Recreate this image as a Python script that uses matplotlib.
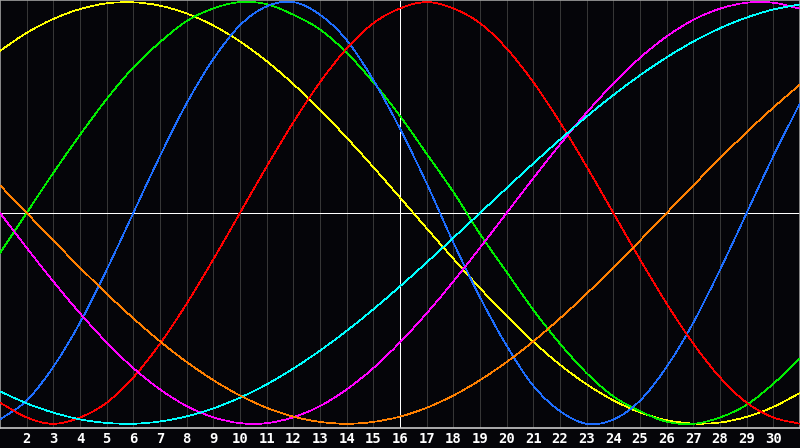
import matplotlib
matplotlib.use("Agg")
import matplotlib.pyplot as plt
from matplotlib.path import Path
from matplotlib.patches import PathPatch

# dias del mes (eje x)
days = list(range(1, 32))
tick_days = list(range(2, 31))
today = 16

# valores de cada ciclo, en % (-100 .. 100), leidos dia a dia
yellow = [76.9, 85.4, 92.0, 96.7, 99.4, 99.9, 98.3, 94.6, 88.9, 81.3, 72.0, 61.1, 48.9, 35.7, 21.7, 7.3,
          -7.3, -21.7, -35.7, -48.9, -61.1, -72.0, -81.3, -88.9, -94.6, -98.3, -99.9, -99.4, -96.7, -92.0, -85.4]
green = [-19, 0, 19, 37, 54, 69, 81, 91, 97, 100, 99, 94, 87, 76, 62, 46,
         28, 10, -10, -28, -46, -62, -76, -87, -94, -99, -100, -97, -91, -81, -69]
blue = [-98, -89, -73, -52, -27, 0, 27, 52, 73, 89, 98, 100, 94, 82, 63, 40,
        14, -14, -40, -63, -82, -94, -100, -98, -89, -73, -52, -27, 0, 27, 52]
red = [-90, -97, -100, -97, -90, -78, -62, -43, -22, 0, 22, 43, 62, 78, 90, 97,
       100, 97, 90, 78, 62, 43, 22, 0, -22, -43, -62, -78, -90, -97, -100]
magenta = [0, -16.5, -32.5, -47.6, -61.4, -73.6, -83.7, -91.6, -96.9, -99.7, -99.7, -96.9, -91.6, -83.7, -73.6, -61.4,
           -47.6, -32.5, -16.5, 0, 16.5, 32.5, 47.6, 61.4, 73.6, 83.7, 91.6, 96.9, 99.7, 99.7, 96.9]
cyan = [-84.6, -90.3, -94.7, -97.9, -99.6, -100.0, -98.9, -96.5, -92.7, -87.6, -81.3, -73.8, -65.3, -55.9, -45.7, -34.8,
        -23.5, -11.8, 0, 11.8, 23.5, 34.8, 45.7, 55.9, 65.3, 73.8, 81.3, 87.6, 92.7, 96.5, 98.9]
orange = [13.1, 0, -13.1, -25.9, -38.3, -50.0, -60.9, -70.7, -79.3, -86.6, -92.4, -96.6, -99.1, -100.0, -99.1, -96.6,
          -92.4, -86.6, -79.3, -70.7, -60.9, -50.0, -38.3, -25.9, -13.1, 0, 13.1, 25.9, 38.3, 50.0, 60.9]

series = [
    (yellow, "#ffff00"),
    (green, "#00ee00"),
    (blue, "#1e6eff"),
    (red, "#ff0000"),
    (magenta, "#ff00ff"),
    (cyan, "#00ffff"),
    (orange, "#ff8000"),
]

PX = 0.72  # un pixel a 100 dpi


# curva suave que pasa por los puntos (catmull-rom -> bezier)
def smooth_path(xs, ys):
    verts = [(xs[0], ys[0])]
    codes = [Path.MOVETO]
    n = len(xs)
    for i in range(n - 1):
        x0, y0 = (xs[i - 1], ys[i - 1]) if i > 0 else (2 * xs[0] - xs[1], 2 * ys[0] - ys[1])
        x1, y1 = xs[i], ys[i]
        x2, y2 = xs[i + 1], ys[i + 1]
        x3, y3 = (xs[i + 2], ys[i + 2]) if i + 2 < n else (2 * xs[-1] - xs[-2], 2 * ys[-1] - ys[-2])
        verts += [(x1 + (x2 - x0) / 6, y1 + (y2 - y0) / 6),
                  (x2 - (x3 - x1) / 6, y2 - (y3 - y1) / 6),
                  (x2, y2)]
        codes += [Path.CURVE4] * 3
    return Path(verts, codes)


fig = plt.figure(figsize=(8, 4.48), dpi=100, facecolor="#050509")
ax = fig.add_axes([0, 20 / 448, 1, 428 / 448])
ax.set_facecolor("#050509")

# rejilla vertical por dia
for d in tick_days:
    ax.axvline(d, color="#363636", lw=PX, antialiased=False, zorder=1)

ax.axhline(0, color="white", lw=PX, antialiased=False, zorder=2)
ax.axvline(today, color="white", lw=PX, antialiased=False, zorder=2)

for vals, col in series:
    ax.add_patch(PathPatch(smooth_path(days, vals), fill=False, edgecolor=col,
                           lw=0.5, antialiased=False, zorder=3))

ax.set_xlim(1, 31)
ax.set_ylim(-102, 101)

ax.set_xticks(tick_days)
ax.set_xticklabels([str(d) for d in tick_days], color="white",
                   fontsize=10, fontweight="bold", family="DejaVu Sans Mono")
ax.tick_params(axis="x", length=0, pad=3)
ax.set_yticks([])

for side in ["left", "top", "right"]:
    ax.spines[side].set_color("#a0a0a0")
    ax.spines[side].set_linewidth(1.2)
ax.spines["bottom"].set_color("#c8c8c8")
ax.spines["bottom"].set_linewidth(1.2)

fig.savefig("out.png", dpi=100, facecolor=fig.get_facecolor())
